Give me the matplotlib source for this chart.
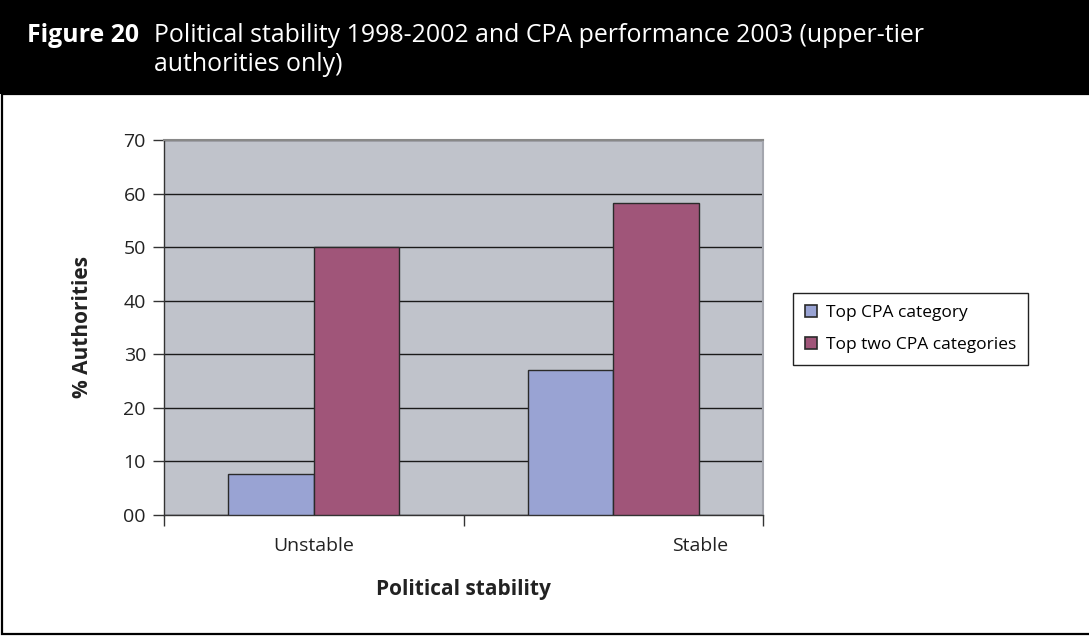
import numpy as np
import matplotlib
matplotlib.use("Agg")
import matplotlib.pyplot as plt
from matplotlib.patches import Rectangle, Patch

plt.rcParams["font.family"] = ["Open Sans", "DejaVu Sans"]

# ---- data ----
categories = ["Unstable", "Stable"]
top_cpa = [7.7, 27.0]
top_two_cpa = [50.0, 58.2]
series_names = ["Top CPA category", "Top two CPA categories"]
y_ticks = [0, 10, 20, 30, 40, 50, 60, 70]
y_tick_labels = ["00", "10", "20", "30", "40", "50", "60", "70"]

col_blue = "#99A3D3"
col_plum = "#A05579"
col_bg = "#C0C3CB"

W, H = 1089, 637
fig = plt.figure(figsize=(W / 100, H / 100), dpi=100)

# header band and outer frame
fig.patches.append(Rectangle((0, 1 - 94 / H), 1, 94 / H, transform=fig.transFigure,
                             facecolor="black", edgecolor="none", zorder=-10))
fig.patches.append(Rectangle((2 / W, 3 / H), 1.1, 1 - 97 / H, transform=fig.transFigure,
                             facecolor="white", edgecolor="black", lw=1.6, zorder=-10))

fig.text(27 / W, 1 - 42 / H, "Figure 20", color="white", fontsize=17.9, fontweight="bold",
         va="baseline", ha="left")
fig.text(154 / W, 1 - 42 / H, "Political stability 1998-2002 and CPA performance 2003 (upper-tier",
         color="white", fontsize=17.9, va="baseline", ha="left")
fig.text(154 / W, 1 - 71 / H, "authorities only)", color="white", fontsize=17.9,
         va="baseline", ha="left")

ax = fig.add_axes([164 / W, 1 - 515 / H, (763 - 164) / W, (515 - 140) / H])
ax.set_facecolor(col_bg)

x = np.arange(len(categories))
bw = 1 / 3.5
ax.bar(x - bw / 2, top_cpa, width=bw, color=col_blue, edgecolor="#2a2a2a", lw=1, zorder=3)
ax.bar(x + bw / 2, top_two_cpa, width=bw, color=col_plum, edgecolor="#2a2a2a", lw=1, zorder=3)

ax.set_xlim(-0.5, 1.5)
ax.set_ylim(0, 70)
ax.set_yticks(y_ticks)
ax.set_yticklabels(y_tick_labels, fontsize=14, color="#222222")
ax.yaxis.grid(True, color="#1a1a1a", lw=1)
ax.set_axisbelow(True)
ax.tick_params(axis="y", length=8, width=1, color="#333333", pad=5)

# category boundary ticks, labels placed separately
ax.set_xticks([-0.5, 0.5, 1.5], minor=True)
ax.tick_params(axis="x", which="minor", length=8, width=1, color="#333333")
ax.set_xticks([0, 1.29])
ax.set_xticklabels(categories, fontsize=14, color="#222222")
ax.tick_params(axis="x", which="major", length=0, pad=16)

for side in ["left", "bottom"]:
    ax.spines[side].set_color("#333333")
    ax.spines[side].set_linewidth(1)
ax.spines["top"].set_color("#888888")
ax.spines["top"].set_linewidth(1.5)
ax.spines["right"].set_color("#A4A6AE")
ax.spines["right"].set_linewidth(1.5)

ax.set_xlabel("Political stability", fontsize=15, fontweight="bold", color="#222222", labelpad=17)
ax.set_ylabel("% Authorities", fontsize=15, fontweight="bold", color="#222222", labelpad=22)

handles = [Patch(facecolor=col_blue, edgecolor="#2a2a2a", lw=1.2),
           Patch(facecolor=col_plum, edgecolor="#2a2a2a", lw=1.2)]
leg = fig.legend(handles, series_names, loc="upper left",
                 bbox_to_anchor=(793 / W, 1 - 293 / H), fontsize=12.5,
                 handlelength=0.7, handleheight=0.7, handletextpad=0.5,
                 labelspacing=0.9, borderpad=0.7, fancybox=False, framealpha=1,
                 edgecolor="#222222", borderaxespad=0)
leg.get_frame().set_linewidth(1)

fig.savefig("out.png", dpi=100)
